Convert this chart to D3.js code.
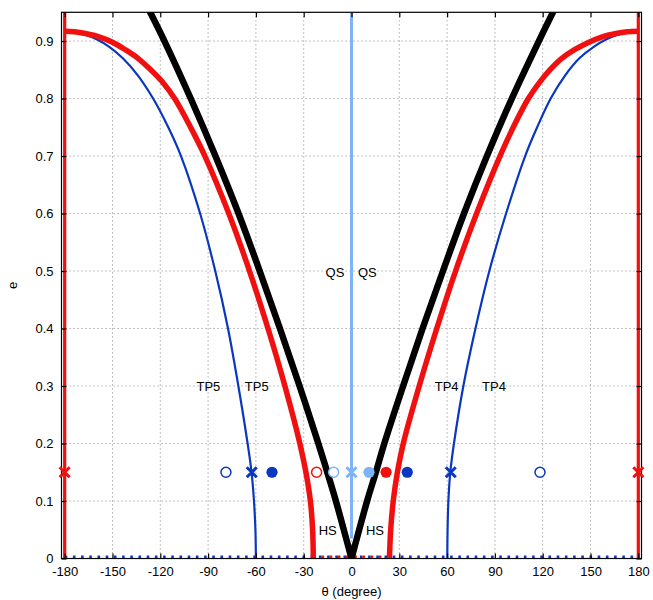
<!DOCTYPE html>
<html>
<head>
<meta charset="utf-8">
<script src="https://cdn.jsdelivr.net/npm/d3@7"></script>
<style>
  body { margin: 0; background: #fff; }
  svg { display: block; font-family: "Liberation Sans", Arial, sans-serif; }
  .grid line { stroke: #999; stroke-width: 1; stroke-dasharray: 1.2,2.8; }
  .tick-label { font-size: 13px; fill: #000; }
</style>
</head>
<body>
<div id="container"></div>
<script>
//tick values
var xTicks = [-180, -150, -120, -90, -60, -30, 0, 30, 60, 90, 120, 150, 180];
var yTicks = [0, 0.1, 0.2, 0.3, 0.4, 0.5, 0.6, 0.7, 0.8, 0.9];

//curves as [theta, e]
var blackLeft = [[-130, 0.97], [-117.4, 0.9], [-100.9, 0.8], [-85.4, 0.7], [-70.9, 0.6], [-57.6, 0.5], [-44.9, 0.4], [-32.6, 0.3], [-20.8, 0.2], [-15.2, 0.15], [-9.8, 0.1], [0, 0]];
var blackRight = [[0, 0], [9.8, 0.1], [15.3, 0.15], [20.6, 0.2], [32.4, 0.3], [44.6, 0.4], [57.4, 0.5], [70.6, 0.6], [85, 0.7], [100.6, 0.8], [117.6, 0.9], [130, 0.97]];

var redLeft = [[-180, 0.917], [-174, 0.916], [-167, 0.913], [-158, 0.907], [-150, 0.898], [-142, 0.885], [-134, 0.87], [-126, 0.85], [-119, 0.83], [-111, 0.8], [-101, 0.75], [-92, 0.7], [-77, 0.6], [-64, 0.5], [-52.4, 0.4], [-41.8, 0.3], [-32.4, 0.2], [-28.6, 0.15], [-25.8, 0.1], [-24.4, 0.05], [-24, 0]];
var redRight = [[23.8, 0], [24.6, 0.05], [26.2, 0.1], [28.8, 0.15], [32.5, 0.2], [42.5, 0.3], [53.5, 0.4], [65.3, 0.5], [78.5, 0.6], [93.2, 0.7], [101.5, 0.75], [111, 0.8], [118.5, 0.83], [124.5, 0.85], [132, 0.87], [140, 0.885], [149, 0.898], [157, 0.907], [166, 0.913], [173, 0.916], [180, 0.917]];

var blueLeft = [[-180, 0.918], [-174, 0.916], [-167, 0.911], [-160, 0.903], [-152, 0.89], [-143.5, 0.87], [-134, 0.84], [-124.5, 0.8], [-115, 0.75], [-107, 0.7], [-95, 0.6], [-85.5, 0.5], [-77.5, 0.4], [-71, 0.3], [-65.2, 0.2], [-62.7, 0.15], [-61.2, 0.1], [-60.3, 0.05], [-60, 0]];
var blueRight = [[60.1, 0], [60.3, 0.05], [60.8, 0.1], [62, 0.15], [64.3, 0.2], [70.2, 0.3], [77.8, 0.4], [86.5, 0.5], [97, 0.6], [109, 0.7], [116.5, 0.75], [125, 0.8], [134, 0.84], [143, 0.87], [152, 0.89], [160, 0.903], [167, 0.911], [174, 0.916], [180, 0.918]];

var qsLine = [[0, 0.035], [0, 0.95]];
var redEdges = [-180, 180];
var blueFloor = [-180, 180];
var redFloor = [-24, 23.8];

//markers, all at the same e
var markerE = 0.15;
var crossRed = [-180, 180];
var crossBlue = [-62.6, 62.3];
var crossLight = [0];
var openBlue = [-78.8, 118.3];
var filledBlue = [-49.9, 35];
var openRed = [-21.9];
var filledRed = [21.7];
var openLight = [-11.2];
var filledLight = [11];

//region labels
var labelText = ["QS", "QS", "TP5", "TP5", "TP4", "TP4", "HS", "HS"];
var labelTheta = [-10.4, 9.9, -89.8, -59.5, 59.7, 89.4, -14.9, 14.7];
var labelE = [0.498, 0.498, 0.299, 0.299, 0.299, 0.299, 0.048, 0.048];

(function(){
    var width = 653, height = 600;
    var left = 61.5, right = 641.5, top = 12.3, bottom = 558.5;

    var red = "#f01010", blue = "#0a37bf", light = "#7fb3f7";

    var svg = d3.select("#container").append("svg")
        .attr("width", width)
        .attr("height", height);

    var x = d3.scaleLinear().domain([-182, 182]).range([left, right]);
    var y = d3.scaleLinear().domain([0, 0.95]).range([bottom, top]);

    svg.append("clipPath").attr("id", "plot")
        .append("rect")
        .attr("x", left).attr("y", top)
        .attr("width", right - left).attr("height", bottom - top);

    //grid
    var grid = svg.append("g").attr("class", "grid");
    grid.selectAll(".gx").data(xTicks.filter(function(d){ return Math.abs(d) < 180; }))
        .enter().append("line")
        .attr("x1", function(d){ return x(d); }).attr("x2", function(d){ return x(d); })
        .attr("y1", top).attr("y2", bottom);
    grid.selectAll(".gy").data(yTicks.filter(function(d){ return d > 0; }))
        .enter().append("line")
        .attr("x1", left).attr("x2", right)
        .attr("y1", function(d){ return y(d); }).attr("y2", function(d){ return y(d); });

    var plot = svg.append("g").attr("clip-path", "url(#plot)");

    var line = d3.line()
        .x(function(d){ return x(d[0]); })
        .y(function(d){ return y(d[1]); });
    var smooth = d3.line()
        .x(function(d){ return x(d[0]); })
        .y(function(d){ return y(d[1]); })
        .curve(d3.curveCatmullRom.alpha(0.5));

    //dotted floor lines at e = 0
    plot.append("path")
        .attr("d", line(blueFloor.map(function(t){ return [t, 0]; })))
        .attr("fill", "none").attr("stroke", blue)
        .attr("stroke-width", 6).attr("stroke-dasharray", "2.6,5.6");
    plot.append("path")
        .attr("d", line(redFloor.map(function(t){ return [t, 0]; })))
        .attr("fill", "none").attr("stroke", red)
        .attr("stroke-width", 6).attr("stroke-dasharray", "2.6,5.6");

    //QS line
    plot.append("path")
        .attr("d", line(qsLine))
        .attr("fill", "none").attr("stroke", light).attr("stroke-width", 3);

    //thin blue tadpole curves
    [blueLeft, blueRight].forEach(function(c){
        plot.append("path")
            .attr("d", smooth(c))
            .attr("fill", "none").attr("stroke", blue).attr("stroke-width", 2.2);
    });

    //red separatrices at +-180
    redEdges.forEach(function(t){
        plot.append("path")
            .attr("d", line([[t, 0], [t, 0.95]]))
            .attr("fill", "none").attr("stroke", red).attr("stroke-width", 3.2);
    });

    //thick red curves
    [redLeft, redRight].forEach(function(c){
        plot.append("path")
            .attr("d", smooth(c))
            .attr("fill", "none").attr("stroke", red).attr("stroke-width", 5.5);
    });

    //black V, both sides in one subpath so the tip is mitred
    var vPath = smooth(blackLeft) + smooth(blackRight).replace(/^M/, "L");
    plot.append("path")
        .attr("d", vPath)
        .attr("fill", "none").attr("stroke", "#000")
        .attr("stroke-width", 6.5).attr("stroke-linejoin", "miter").attr("stroke-miterlimit", 20);

    //frame and axes, ticks inside on all sides
    svg.append("rect")
        .attr("x", left).attr("y", top)
        .attr("width", right - left).attr("height", bottom - top)
        .attr("fill", "none").attr("stroke", "#000").attr("stroke-width", 1.2);

    var xb = svg.append("g").attr("transform", "translate(0," + bottom + ")")
        .call(d3.axisBottom(x).tickValues(xTicks).tickSize(-5).tickPadding(8).tickFormat(function(d){ return String(d); }));
    var xt = svg.append("g").attr("transform", "translate(0," + top + ")")
        .call(d3.axisTop(x).tickValues(xTicks).tickSize(-5).tickFormat(""));
    var yl = svg.append("g").attr("transform", "translate(" + left + ",0)")
        .call(d3.axisLeft(y).tickValues(yTicks).tickSize(-5).tickPadding(8).tickFormat(function(d){ return d === 0 ? "0" : d.toFixed(1); }));
    var yr = svg.append("g").attr("transform", "translate(" + right + ",0)")
        .call(d3.axisRight(y).tickValues(yTicks).tickSize(-5).tickFormat(""));
    [xb, xt, yl, yr].forEach(function(g){
        g.select(".domain").remove();
        g.selectAll(".tick line").attr("stroke", "#000").attr("stroke-width", 1.2);
        g.selectAll(".tick text").attr("class", "tick-label")
            .style("font-family", "'Liberation Sans', Arial, sans-serif").style("font-size", "13px");
    });

    //markers
    var mk = svg.append("g");
    function cross(list, color){
        list.forEach(function(t){
            var cx = x(t), cy = y(markerE), s = 5;
            mk.append("path")
                .attr("d", "M" + (cx - s) + "," + (cy - s) + "L" + (cx + s) + "," + (cy + s) +
                    "M" + (cx - s) + "," + (cy + s) + "L" + (cx + s) + "," + (cy - s))
                .attr("stroke", color).attr("stroke-width", 3).attr("fill", "none");
        });
    }
    function circle(list, color, filled){
        mk.selectAll(null).data(list).enter().append("circle")
            .attr("cx", function(d){ return x(d); })
            .attr("cy", y(markerE))
            .attr("r", filled ? 5.6 : 5)
            .attr("fill", filled ? color : "#fff")
            .attr("stroke", color)
            .attr("stroke-width", filled ? 0 : 1.5);
    }
    circle(openBlue, blue, false);
    circle(filledBlue, blue, true);
    circle(openRed, red, false);
    circle(filledRed, red, true);
    circle(openLight, light, false);
    circle(filledLight, light, true);
    cross(crossRed, red);
    cross(crossBlue, blue);
    cross(crossLight, light);

    //region labels
    svg.selectAll(".region").data(labelText).enter().append("text")
        .attr("class", "region")
        .attr("x", function(d, i){ return x(labelTheta[i]); })
        .attr("y", function(d, i){ return y(labelE[i]); })
        .attr("dy", "0.35em")
        .attr("text-anchor", "middle")
        .style("font-size", "13px")
        .text(function(d){ return d; });

    //axis titles
    svg.append("text")
        .attr("x", x(0)).attr("y", 595.5)
        .attr("text-anchor", "middle").style("font-size", "13px")
        .text("θ (degree)");
    svg.append("text")
        .attr("transform", "translate(12," + y(0.475) + ") rotate(-90)")
        .attr("dy", "0.35em")
        .attr("text-anchor", "middle").style("font-size", "13px")
        .text("e");
})();
</script>
</body>
</html>
